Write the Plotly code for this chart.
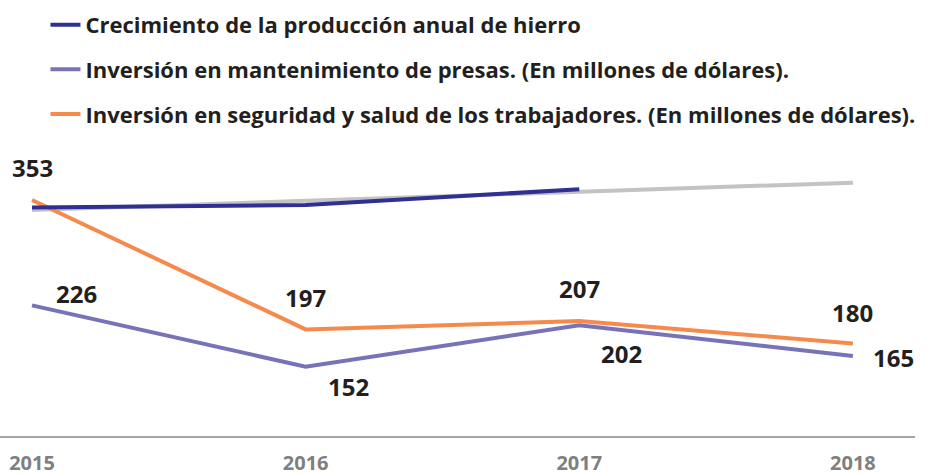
import plotly.graph_objects as go

years = ["2015", "2016", "2017", "2018"]
crecimiento = [344, 347, 366]            # dark blue line (ends at 2017)
tendencia = [341, 352, 363, 374]          # gray trend line
presas = [226, 152, 202, 165]             # purple
seguridad = [353, 197, 207, 180]          # orange

name_crec = "Crecimiento de la producción anual de hierro"
name_presas = "Inversión en mantenimiento de presas. (En millones de dólares)."
name_seg = "Inversión en seguridad y salud de los trabajadores. (En millones de dólares)."

BLUE = "#2E3192"
PURPLE = "#7872B8"
ORANGE = "#F58A4C"
GRAY = "#C3C3C6"
FONT = "Open Sans"

fig = go.Figure()
fig.add_trace(go.Scatter(x=years, y=tendencia, mode="lines", showlegend=False,
                         line=dict(color=GRAY, width=4), hoverinfo="skip"))
fig.add_trace(go.Scatter(x=years, y=presas, mode="lines", name=name_presas,
                         legendgroup="b", legendrank=2,
                         line=dict(color=PURPLE, width=4)))
fig.add_trace(go.Scatter(x=years, y=seguridad, mode="lines", name=name_seg,
                         legendgroup="c", legendrank=3,
                         line=dict(color=ORANGE, width=4)))
fig.add_trace(go.Scatter(x=years[:len(crecimiento)], y=crecimiento, mode="lines", name=name_crec,
                         legendgroup="a", legendrank=1,
                         line=dict(color=BLUE, width=4)))

# data labels
seg_shift = [(0, 33), (0, 32), (0, 33), (0, 31)]
presas_shift = [(44, 12), (43, -20), (42, -28), (41, -2)]
for i in range(len(years)):
    fig.add_annotation(xref="x", yref="y", x=i, y=seguridad[i], text=str(seguridad[i]),
                       showarrow=False, xshift=seg_shift[i][0], yshift=seg_shift[i][1],
                       font=dict(family=FONT, size=24, color="#231F20", weight="bold"))
    fig.add_annotation(xref="x", yref="y", x=i, y=presas[i], text=str(presas[i]),
                       showarrow=False, xshift=presas_shift[i][0], yshift=presas_shift[i][1],
                       font=dict(family=FONT, size=24, color="#231F20", weight="bold"))

fig.update_layout(
    width=928, height=474,
    margin=dict(l=0, r=13, t=0, b=38, autoexpand=False),
    paper_bgcolor="white", plot_bgcolor="white",
    showlegend=True,
    legend=dict(x=0.0497, y=0.991, xanchor="left", yanchor="top",
                bgcolor="rgba(0,0,0,0)", tracegroupgap=13,
                font=dict(family=FONT, size=22, color="#231F20", weight="bold")),
    xaxis=dict(type="category", range=[-0.117, 3.227], showgrid=False, zeroline=False,
               automargin=False,
               showline=True, linecolor="#A6A6A6", linewidth=2,
               ticks="outside", ticklen=8, tickcolor="rgba(0,0,0,0)",
               tickfont=dict(family=FONT, size=20, color="#7F7F7F", weight="bold")),
    yaxis=dict(range=[68.4, 594.3], showticklabels=False, showline=False,
               showgrid=False, zeroline=False, ticks="", automargin=False),
    hovermode=False,
)

fig.write_html("out.html", config={"displayModeBar": False},
               post_script="document.body.style.margin='0';")
